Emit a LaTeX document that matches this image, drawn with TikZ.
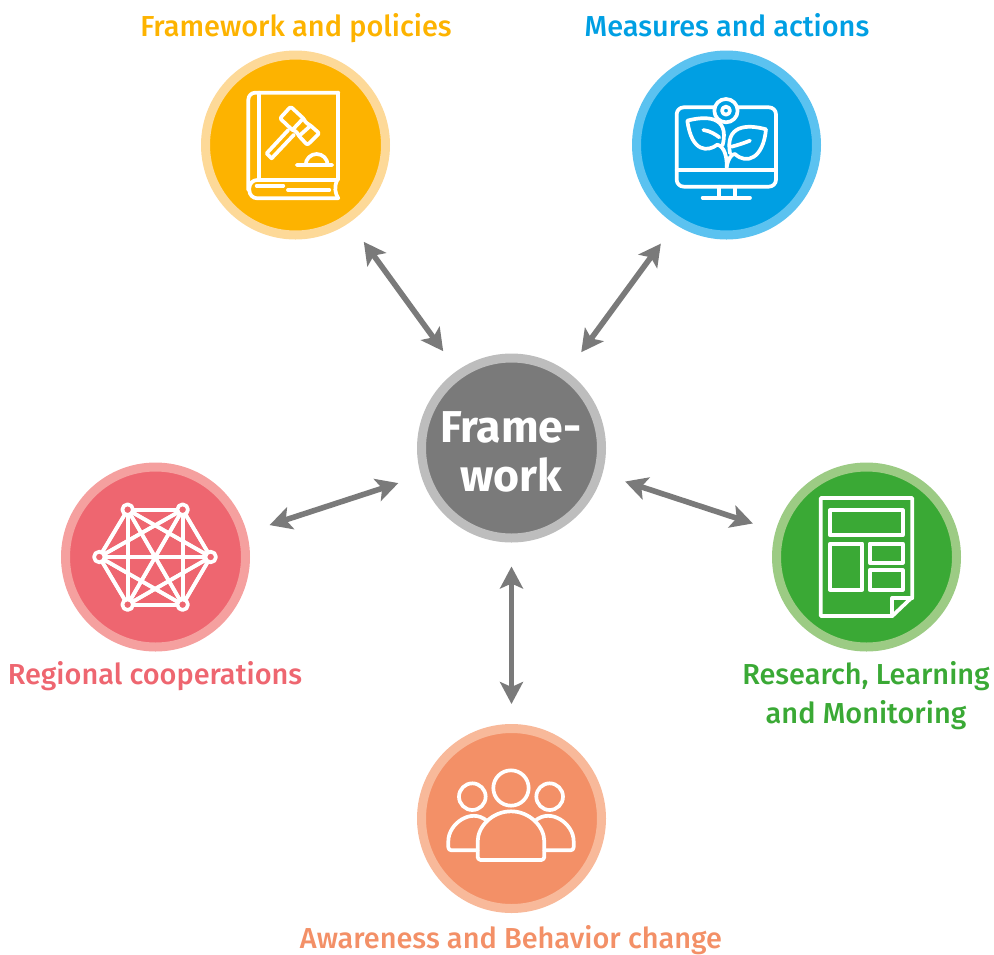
\documentclass[tikz,border=0pt]{standalone}
\usepackage{fontspec}
\setmainfont{Fira Sans Medium}
\newfontfamily\hubfont{Fira Sans Bold}
\usetikzlibrary{arrows.meta}

\definecolor{fwgray}{HTML}{7A7A7A}
\definecolor{fwgraylight}{HTML}{BDBDBD}
\definecolor{fpyellow}{HTML}{FDB300}
\definecolor{fpyellowlight}{HTML}{FDD998}
\definecolor{mablue}{HTML}{009FE3}
\definecolor{mabluelight}{HTML}{5BC2F0}
\definecolor{rcred}{HTML}{EE6670}
\definecolor{rcredlight}{HTML}{F5A09F}
\definecolor{rlgreen}{HTML}{3AA935}
\definecolor{rlgreenlight}{HTML}{9CCB84}
\definecolor{aborange}{HTML}{F39067}
\definecolor{aborangelight}{HTML}{F8B99A}

\tikzset{
    topic/.style 2 args={circle, fill=#1, draw=#2, line width=9pt, minimum size=180pt, inner sep=0pt},
    caption/.style={font=\fontsize{28.9}{39}\selectfont, align=center, inner sep=0pt, anchor=base},
    twoway/.style={draw=fwgray, line width=5.6pt, shorten >=24pt, shorten <=24pt,
        {Stealth[length=22pt,width=23pt,inset=5pt]}-{Stealth[length=22pt,width=23pt,inset=5pt]}},
    icon/.style={shift={#1}, x=0.3333pt, y=-0.3333pt},
    iconline/.style={draw=white, line width=3.7pt, line join=round, line cap=round},
}

\begin{document}
\begin{tikzpicture}[x=1pt, y=-1pt]
    \useasboundingbox (0,0) rectangle (994,954);

    \node (Hub) [topic={fwgray}{fwgraylight}] at (511.5,448) {};
    \node (FP) [topic={fpyellow}{fpyellowlight}] at (295.5,145) {};
    \node (MA) [topic={mablue}{mabluelight}] at (726.5,145) {};
    \node (RC) [topic={rcred}{rcredlight}] at (155.5,557) {};
    \node (RL) [topic={rlgreen}{rlgreenlight}] at (866.5,557) {};
    \node (AB) [topic={aborange}{aborangelight}] at (511.5,818.5) {};

    \node (Hubtext) [text=white, font=\fontsize{44.6}{49}\selectfont\hubfont, align=center, inner sep=0pt] at (511,452) {Frame-\\work};
    \node (FPtext) [caption, text=fpyellow] at (296,36) {Framework and policies};
    \node (MAtext) [caption, text=mablue] at (727,36) {Measures and actions};
    \node (RCtext) [caption, text=rcred] at (155,684) {Regional cooperations};
    \node (RLtext) [caption, text=rlgreen] at (866,723) {Research, Learning\\and Monitoring};
    \node (ABtext) [caption, text=aborange] at (511,948) {Awareness and Behavior change};

    \draw [twoway] (Hub.125.5) -- (FP.-55.6);
    \draw [twoway] (Hub.54.5) -- (MA.-123.6);
    \draw [twoway] (Hub.197.5) -- (RC.15.7);
    \draw [twoway] (Hub.-16.6) -- (RL.164.2);
    \draw [twoway, shorten >=20pt] (Hub.270) -- (AB.90);

    % book and gavel
    \begin{scope}[icon={(200,50)}]
        \draw [iconline, rounded corners=7pt] (415,128) -- (145,128) -- (145,420);
        \draw [iconline] (415,128) -- (415,388) (178,128) -- (178,385);
        \draw [iconline, rounded corners=8pt] (412,390) -- (148,390) -- (148,445) -- (415,445);
        \draw [iconline] (412,390) .. controls (402,410) and (405,430) .. (415,445);
        \draw [iconline] (170,407) -- (250,407) (264,420) -- (388,420);
        \draw [iconline, rounded corners=1.5pt] (272,170) -- (310,205) -- (318,218) -- (332,227) -- (358,250) -- (322,285) -- (297,258) -- (290,245) -- (277,240) -- (240,205) -- cycle;
        \draw [iconline] (310,205) -- (277,240) (332,227) -- (297,258);
        \draw [iconline] (265,240) -- (200,310) -- (215,325) -- (282,254);
        \draw [iconline] (290,345) -- (397,345) (317,345) arc (180:360:33);
    \end{scope}

    % monitor with plant
    \begin{scope}[icon={(630,50)}]
        \draw [iconline, rounded corners=7pt] (253,172) -- (140,172) -- (140,410) -- (438,410) -- (438,172) -- (323,172);
        \draw [iconline] (140,360) -- (438,360);
        \draw [iconline] (288,182) circle [radius=35] (288,182) circle [radius=12];
        \draw [iconline] (268,410) -- (268,443) (315,410) -- (315,443) (218,443) -- (360,443);
        \draw [iconline] (290,358) .. controls (292,325) and (285,290) .. (262,284) .. controls (235,305) and (185,310) .. (172,212) .. controls (225,198) and (300,195) .. (278,285);
        \draw [iconline] (220,240) .. controls (240,243) and (255,252) .. (268,262);
        \draw [iconline] (290,350) .. controls (295,325) and (305,312) .. (315,312) .. controls (350,345) and (400,325) .. (408,238) .. controls (350,222) and (285,225) .. (300,310);
        \draw [iconline] (305,290) .. controls (325,285) and (345,278) .. (360,272);
    \end{scope}

    % network
    \begin{scope}[icon={(60,462)}]
        \foreach \a/\b in {203/143, 368/143, 118/285, 452/285, 203/428, 368/428}
            \foreach \c/\d in {203/143, 368/143, 118/285, 452/285, 203/428, 368/428}
                \draw [iconline] (\a,\b) -- (\c,\d);
        \foreach \a/\b in {203/143, 368/143, 118/285, 452/285, 203/428, 368/428}
            \draw [iconline, fill=rcred] (\a,\b) circle [radius=16];
    \end{scope}

    % report page
    \begin{scope}[icon={(770,462)}]
        \draw [iconline] (152,108) -- (427,108) -- (427,405) -- (367,462) -- (152,462) -- cycle;
        \draw [iconline] (427,408) -- (367,408) -- (367,462);
        \draw [iconline] (180,145) rectangle (398,220);
        \draw [iconline] (180,245) rectangle (277,383);
        \draw [iconline] (299,245) rectangle (398,303);
        \draw [iconline] (299,325) rectangle (398,383);
    \end{scope}

    % people
    \begin{scope}[icon={(416,724)}]
        \draw [iconline] (285,192) circle [radius=53];
        \draw [iconline] (169,218) circle [radius=40] (401,218) circle [radius=40];
        \draw [iconline, rounded corners=3pt] (185,408) -- (185,362) arc (180:360:100) -- (385,408) -- cycle;
        \draw [iconline, rounded corners=3pt] (185,379) -- (97,379) -- (97,360) .. controls (97,300) and (165,250) .. (212,290);
        \draw [iconline, rounded corners=3pt] (385,379) -- (473,379) -- (473,360) .. controls (473,300) and (405,250) .. (358,290);
    \end{scope}
\end{tikzpicture}
\end{document}
